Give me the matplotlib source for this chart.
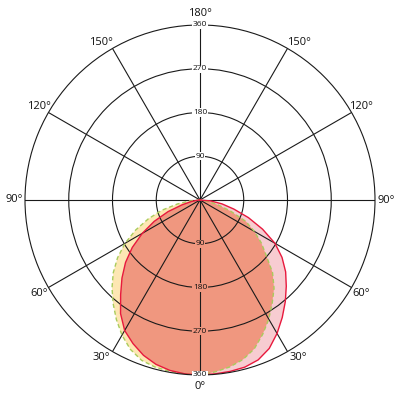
import numpy as np
import matplotlib
matplotlib.use("Agg")
import matplotlib.pyplot as plt

plt.rcParams['font.family'] = ['Open Sans', 'DejaVu Sans']

# gamma angles (deg from nadir), 5 deg steps
gamma = [0, 5, 10, 15, 20, 25, 30, 35, 40, 45, 50, 55, 60, 65, 70, 75, 80, 85, 90]

# red curve (pink fill), left half and right half (cd)
red_left = [360, 359, 356, 350, 340, 326, 310, 285, 254, 227, 200, 170, 137, 104, 70, 38, 18, 6, 0]
red_right = [360, 359, 358, 356, 350, 337, 317, 295, 273, 251, 230, 206, 178, 142, 106, 72, 46, 22, 0]

# yellow dashed curve, left half and right half (cd)
yel_left = [360, 359, 358, 356, 351, 339, 321, 300, 278, 256, 233, 207, 178, 146, 113, 81, 47, 21, 0]
yel_right = [358, 355, 349, 340, 326, 305, 283, 259, 237, 211, 178, 154, 129, 104, 67, 38, 18, 6, 0]

angle_ticks = [0, 30, 60, 90, 120, 150, 180, 210, 240, 270, 300, 330]
angle_labels = ['0°', '30°', '60°', '90°', '120°', '150°', '180°',
                '150°', '120°', '90°', '60°', '30°']
r_ticks = [90, 180, 270, 360]


def full_curve(left, right):
    g = np.array(gamma, dtype=float)
    th = np.concatenate([-g[::-1], g[1:]])
    r = np.concatenate([np.array(left[::-1], float), np.array(right[1:], float)])
    return np.radians(th), r


fig = plt.figure(figsize=(4, 4), dpi=100)
ax = fig.add_axes([0.0625, 0.0625, 0.875, 0.875], projection='polar')
ax.set_theta_zero_location('S')
ax.set_theta_direction(1)
ax.set_ylim(0, 360)

th_r, r_r = full_curve(red_left, red_right)
th_y, r_y = full_curve(yel_left, yel_right)

ax.fill(th_y, r_y, color='#fde7b3', lw=0, zorder=1)
ax.fill(th_r, r_r, color='#f7ccd1', lw=0, zorder=1.1)
ax.fill(th_r, np.minimum(r_r, r_y), color='#f0977f', lw=0, zorder=1.2)
ax.plot(th_y, r_y, color='#a9cc5c', lw=1.0, ls=(0, (3, 2)), zorder=2)
ax.plot(th_r, r_r, color='#e8193d', lw=1.0, zorder=2.1)

ax.set_xticks(np.radians(angle_ticks))
ax.set_xticklabels([])
ax.set_yticks(r_ticks[:-1])
ax.set_yticklabels([])
ax.grid(True, color='#1a1a1a', lw=0.8)
ax.spines['polar'].set_color('#1a1a1a')
ax.spines['polar'].set_linewidth(0.8)

# small outward nudge for the labels next to the vertical axis
nudge = {30: 2, 150: -2, 210: 2, 330: -2}
for a, lab in zip(angle_ticks, angle_labels):
    pos = a + nudge.get(a, 0)
    ax.text(np.radians(pos), 383, lab, ha='center', va='center', fontsize=8, color='#111111')

for rv in r_ticks:
    ax.text(np.pi, rv, str(rv), ha='center', va='center', fontsize=6, color='#111111',
            zorder=4, bbox=dict(fc='white', ec='none', pad=0.5))
    bg = '#f0977f' if rv < 360 else 'white'
    ax.text(0, rv, str(rv), ha='center', va='center', fontsize=6, color='#111111',
            zorder=4, bbox=dict(fc=bg, ec='none', pad=0.5))

fig.savefig('out.png', dpi=100)
